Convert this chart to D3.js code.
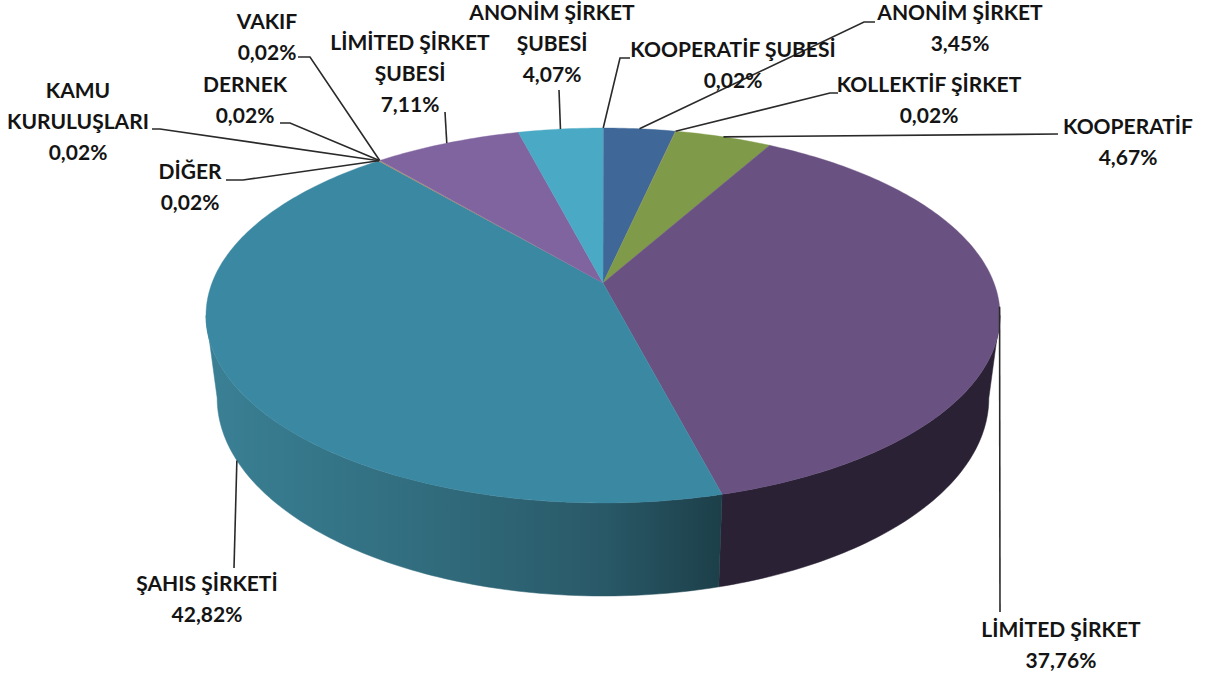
<!DOCTYPE html>
<html>
<head>
<meta charset="utf-8">
<script src="https://cdn.jsdelivr.net/npm/d3@7"></script>
<style>
    html, body { margin: 0; padding: 0; background: #fff; }
    text { font-family: Lato, "Open Sans", sans-serif; font-weight: 700; font-size: 21px; fill: #141414; text-anchor: middle; }
    .leader { fill: none; stroke: #2a2a2a; stroke-width: 1.6; }
</style>
</head>
<body>
<div id="chart"></div>
<script>
// clockwise from 12 o'clock
var categories = ["KOOPERATİF ŞUBESİ", "ANONİM ŞİRKET", "KOLLEKTİF ŞİRKET", "KOOPERATİF", "LİMİTED ŞİRKET",
    "ŞAHIS ŞİRKETİ", "DİĞER", "KAMU KURULUŞLARI", "DERNEK", "VAKIF", "LİMİTED ŞİRKET ŞUBESİ", "ANONİM ŞİRKET ŞUBESİ"];
var shares = [0.02, 3.45, 0.02, 4.67, 37.76, 42.82, 0.02, 0.02, 0.02, 0.02, 7.11, 4.07];
var shareLabels = ["0,02%", "3,45%", "0,02%", "4,67%", "37,76%", "42,82%", "0,02%", "0,02%", "0,02%", "0,02%", "7,11%", "4,07%"];
var topColours = ["#7fa8cf", "#3f6797", "#a5524f", "#7f9a48", "#695181", "#3b88a2", "#b5763a", "#8a9a50", "#a5524f", "#7f9a48", "#8064a0", "#4aa9c4"];
var wallColours = ["#4c6580", "#27405e", "#66322f", "#4f602c", "#2b2135", "url(#wall-sahis)", "#704924", "#566032", "#66322f", "#4f602c", "#4f3e64", "#2e697a"];

// label placement, same order as categories
var labelLines = [
    ["KOOPERATİF ŞUBESİ"], ["ANONİM ŞİRKET"], ["KOLLEKTİF ŞİRKET"], ["KOOPERATİF"], ["LİMİTED ŞİRKET"], ["ŞAHIS ŞİRKETİ"],
    ["DİĞER"], ["KAMU", "KURULUŞLARI"], ["DERNEK"], ["VAKIF"], ["LİMİTED ŞİRKET", "ŞUBESİ"], ["ANONİM ŞİRKET", "ŞUBESİ"]
];
var labelX = [733, 960, 929, 1128, 1061, 207, 190, 78, 245, 267, 410, 552];
var labelY = [50, 13, 85, 127, 630, 584, 172, 91, 85, 22, 43, 13];
var leaderBends = [
    [[620, 58], [630, 58]], [[864, 22], [875, 22]], [[830, 93], [838, 93]], [[1058, 134]], [[1000, 612]], [[234, 568]],
    [[243, 180], [226, 180]], [[160, 129], [152, 129]], [[290, 123], [280, 123]], [[310, 57], [298, 57]], [[445, 112]], [[559, 90]]
];
var width = 1206,
    height = 677,
    lineGap = 31;

// tilted disc: unit circle pushed through a perspective projection
var cfg = {
    cx: 603,
    k: 0.1733,
    top: { a: 391, b: 132.8, c: 283 },
    bottom: { a: 380, b: 129, c: 363.7 }
};

// the wall faces the viewer only between the two side extremes of the disc
var frontStart = Math.acos(-cfg.k),
    frontEnd = 2 * Math.PI - frontStart;

function project(angle, face) {
    var u = Math.sin(angle),
        v = -Math.cos(angle),
        w = 1 - cfg.k * v;
    return [cfg.cx + face.a * u / w, (face.b * v + face.c) / w];
}

function rim(start, end, face) {
    var n = Math.max(2, Math.ceil((end - start) * 60));
    return d3.range(n + 1).map(function(i) {
        return project(start + (end - start) * i / n, face);
    });
}

var svg = d3.select("#chart").append("svg")
    .attr("width", width)
    .attr("height", height)
    .style("display", "block");

var gradient = svg.append("defs").append("linearGradient")
    .attr("id", "wall-sahis")
    .attr("gradientUnits", "userSpaceOnUse")
    .attr("x1", 206).attr("x2", 724)
    .attr("y1", 0).attr("y2", 0);
gradient.append("stop").attr("offset", 0).attr("stop-color", "#3a8095");
gradient.append("stop").attr("offset", 0.45).attr("stop-color", "#306b7c");
gradient.append("stop").attr("offset", 0.75).attr("stop-color", "#2a5a69");
gradient.append("stop").attr("offset", 1).attr("stop-color", "#1c3f49");

var pie = d3.pie().sort(null).value(function(d) { return d; });
var slices = pie(shares);
var line = d3.line();

svg.append("g").selectAll("path")
    .data(slices.filter(function(d) {
        return d.endAngle > frontStart && d.startAngle < frontEnd;
    }))
    .enter().append("path")
    .attr("d", function(d) {
        var start = Math.max(d.startAngle, frontStart),
            end = Math.min(d.endAngle, frontEnd);
        return line(rim(start, end, cfg.top).concat(rim(start, end, cfg.bottom).reverse())) + "Z";
    })
    .style("fill", function(d) { return wallColours[d.index]; })
    .style("stroke", function(d) { return wallColours[d.index]; })
    .style("stroke-width", 0.5);

svg.append("g").selectAll("path")
    .data(slices)
    .enter().append("path")
    .attr("d", function(d) {
        return line([[cfg.cx, cfg.top.c]].concat(rim(d.startAngle, d.endAngle, cfg.top))) + "Z";
    })
    .style("fill", function(d, i) { return topColours[i]; })
    .style("stroke", function(d, i) { return shares[i] < 1 ? "none" : topColours[i]; })
    .style("stroke-width", 0.4);

// the leader of the sahis slice starts on the lower rim
svg.append("g").selectAll("path")
    .data(slices)
    .enter().append("path")
    .attr("class", "leader")
    .attr("d", function(d, i) {
        var mid = (d.startAngle + d.endAngle) / 2;
        var start = project(mid, categories[i] == "ŞAHIS ŞİRKETİ" ? cfg.bottom : cfg.top);
        return line([start].concat(leaderBends[i]));
    });

var labels = svg.append("g").selectAll("g")
    .data(categories)
    .enter().append("g")
    .attr("transform", function(d, i) {
        return "translate(" + labelX[i] + "," + labelY[i] + ")";
    });

labels.selectAll("text")
    .data(function(d, i) { return labelLines[i].concat(shareLabels[i]); })
    .enter().append("text")
    .attr("y", function(d, i) { return i * lineGap; })
    .attr("dy", "0.35em")
    .text(function(d) { return d; });
</script>
</body>
</html>
